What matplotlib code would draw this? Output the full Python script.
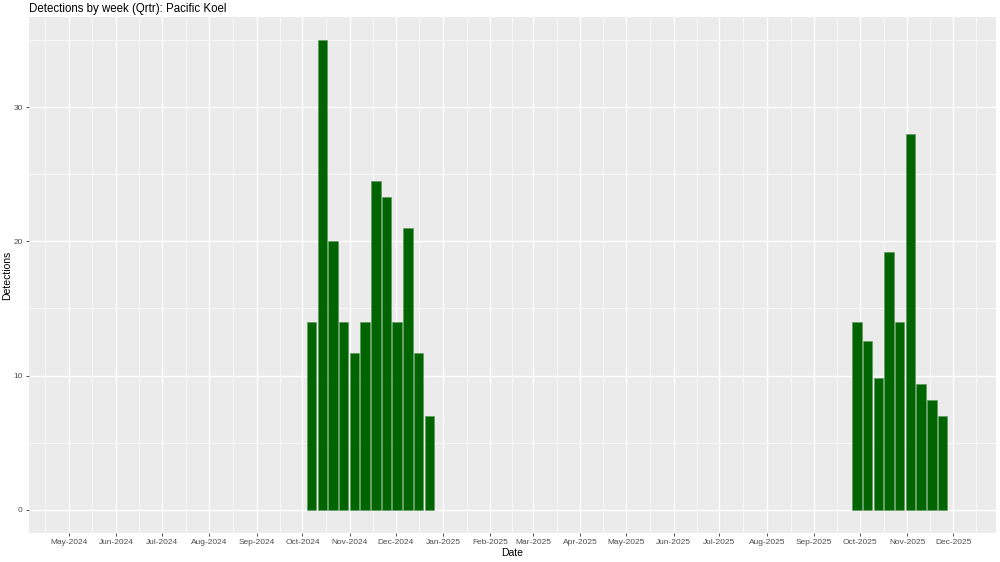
import numpy as np
import pandas as pd
import matplotlib
matplotlib.use('Agg')
import matplotlib.pyplot as plt
import matplotlib.dates as mdates

plt.rcParams['font.family'] = ['Liberation Sans', 'DejaVu Sans']

# weekly detections (week start dates)
weeks_2024 = pd.date_range('2024-10-07', periods=12, freq='7D')
counts_2024 = [14, 35, 20, 14, 11.67, 14, 24.5, 23.33, 14, 21, 11.67, 7]
weeks_2025 = pd.date_range('2025-09-29', periods=9, freq='7D')
counts_2025 = [14, 12.6, 9.8, 19.25, 14, 28, 9.33, 8.17, 7]

weeks = weeks_2024.append(weeks_2025)
counts = counts_2024 + counts_2025

month_breaks = pd.date_range('2024-05-01', '2025-12-01', freq='MS')
x_start = pd.Timestamp('2024-04-05')
x_end = pd.Timestamp('2025-12-29')

fig = plt.figure(figsize=(10, 5.62), dpi=100)
ax = fig.add_axes([0.029, 0.0516, 0.967, 0.9182])
ax.set_facecolor('#EBEBEB')

ax.bar(weeks, counts, width=6.2, color='#006400', edgecolor='#5a965a',
       linewidth=0.4, zorder=3)

# major / minor grid like ggplot
ax.set_xticks(month_breaks)
ax.set_xticklabels([d.strftime('%b-%Y') for d in month_breaks])
mb = mdates.date2num(month_breaks)
mids = list((mb[:-1] + mb[1:]) / 2)
mids = [mb[0] - (mb[1] - mb[0]) / 2] + mids + [mb[-1] + (mb[-1] - mb[-2]) / 2]
ax.set_xticks(mids, minor=True)
ax.set_yticks([0, 10, 20, 30])
ax.set_yticks([5, 15, 25, 35], minor=True)

ax.grid(which='major', color='white', linewidth=1.0, zorder=0)
ax.grid(which='minor', color='white', linewidth=0.5, zorder=0)
ax.set_axisbelow(True)

ax.set_xlim(x_start, x_end)
ax.set_ylim(-1.75, 36.75)

for s in ax.spines.values():
    s.set_visible(False)
ax.tick_params(which='major', length=2.5, width=0.6, color='#333333',
               labelsize=6, labelcolor='#4D4D4D', pad=2)
ax.tick_params(which='minor', length=0)

ax.set_xlabel('Date', fontsize=7.5, labelpad=1)
ax.set_ylabel('Detections', fontsize=7.5, labelpad=1)
ax.set_title('Detections by week (Qrtr): Pacific Koel', loc='left',
             fontsize=8.3, pad=3.5)

fig.savefig('out.png', dpi=100)
